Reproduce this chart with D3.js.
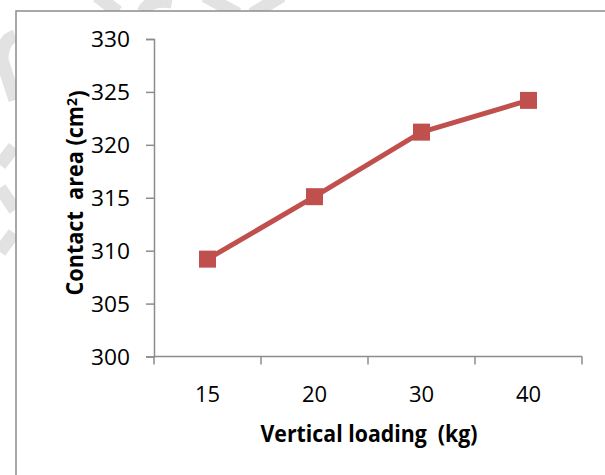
<!DOCTYPE html>
<html>
<head>
<meta charset="utf-8">
<script src="https://cdn.jsdelivr.net/npm/d3@7"></script>
<style>
  body { margin: 0; background: #fff; }
  text { font-family: "Open Sans", sans-serif; fill: #000; }
</style>
</head>
<body>
<svg id="chart" width="605" height="475"></svg>
<script>
// chart values
var categories = ['15', '20', '30', '40'];
var contact_area = [309.2, 315.1, 321.2, 324.2];
var y_ticks = [300, 305, 310, 315, 320, 325, 330];
var x_title = 'Vertical loading  (kg)';
var y_title = 'Contact  area (cm';

var svg = d3.select('#chart');
var red = '#C0504D';
var axis_grey = '#8c8c8c';

// faint watermark pieces in the margins
var marks = [
  'M15,36 Q2,40 2,60 L15,100',
  'M14,147 L0,165',
  'M0,188 L15,210',
  'M14,233 L0,252',
  'M97,-4 L118,12',
  'M143,12 Q150,-2 172,2',
  'M205,-4 L238,14',
  'M282,-4 L252,14'
];
svg.selectAll('.wm')
  .data(marks)
  .enter()
  .append('path')
  .attr('class', 'wm')
  .attr('d', function(d){ return d; })
  .style('fill', 'none')
  .style('stroke', '#e2e2e2')
  .style('stroke-width', 13);

// chart box
svg.append('rect')
  .attr('x', 16)
  .attr('y', 11)
  .attr('width', 640)
  .attr('height', 520)
  .style('fill', '#fff')
  .style('stroke', axis_grey)
  .style('stroke-width', 1.5);

var x_scale = d3.scaleBand()
  .domain(categories)
  .range([154, 582])
  .padding(0);

var y_scale = d3.scaleLinear()
  .domain([300, 330])
  .range([356.5, 39]);

// y axis
var y_axis = svg.append('g')
  .attr('transform', 'translate(154,0)')
  .call(d3.axisLeft(y_scale).tickValues(y_ticks).tickSize(8).tickPadding(16));

y_axis.select('.domain').style('stroke', axis_grey).style('stroke-width', 1.5);
y_axis.selectAll('.tick line').style('stroke', axis_grey).style('stroke-width', 1.5);
y_axis.selectAll('.tick text')
  .style('font-family', '"Open Sans", sans-serif')
  .style('font-size', '22px')
  .attr('textLength', 39)
  .attr('lengthAdjust', 'spacingAndGlyphs')
  .attr('dy', '0.36em');

// x axis, ticks sit on the band edges
var x_axis = svg.append('g')
  .attr('transform', 'translate(0,356.5)');

x_axis.append('path')
  .attr('d', 'M' + x_scale.range()[0] + ',0 H' + x_scale.range()[1])
  .style('stroke', axis_grey)
  .style('stroke-width', 1.5);

var edges = categories.map(function(d){ return x_scale(d); }).concat([x_scale.range()[1]]);
x_axis.selectAll('.xtick')
  .data(edges)
  .enter()
  .append('line')
  .attr('class', 'xtick')
  .attr('x1', function(d){ return d; })
  .attr('x2', function(d){ return d; })
  .attr('y1', 0)
  .attr('y2', 8)
  .style('stroke', axis_grey)
  .style('stroke-width', 1.5);

x_axis.selectAll('.xlabel')
  .data(categories)
  .enter()
  .append('text')
  .attr('class', 'xlabel')
  .attr('x', function(d){ return x_scale(d) + x_scale.bandwidth() / 2; })
  .attr('y', 38)
  .attr('dy', '0.36em')
  .attr('text-anchor', 'middle')
  .style('font-size', '22px')
  .text(function(d){ return d; });

// axis titles
svg.append('text')
  .attr('x', 369)
  .attr('y', 442)
  .attr('text-anchor', 'middle')
  .attr('textLength', 217)
  .attr('lengthAdjust', 'spacingAndGlyphs')
  .style('white-space', 'pre')
  .style('font-size', '23px')
  .style('font-weight', 'bold')
  .text(x_title);

var yt = svg.append('text')
  .attr('transform', 'translate(83,193) rotate(-90)')
  .attr('text-anchor', 'middle')
  .attr('textLength', 205)
  .attr('lengthAdjust', 'spacingAndGlyphs')
  .style('white-space', 'pre')
  .style('font-size', '23px')
  .style('font-weight', 'bold');
yt.append('tspan').text(y_title);
yt.append('tspan').attr('dy', '-0.4em').style('font-size', '15px').text('2');
yt.append('tspan').attr('dy', '0.4em').text(')');

// line and square markers
var pts = categories.map(function(c, i){ return { cat: c, value: contact_area[i] }; });

var line = d3.line()
  .x(function(d){ return x_scale(d.cat) + x_scale.bandwidth() / 2; })
  .y(function(d){ return y_scale(d.value); });

svg.append('path')
  .datum(pts)
  .attr('d', line)
  .style('fill', 'none')
  .style('stroke', red)
  .style('stroke-width', 5)
  .style('stroke-linejoin', 'round');

var msize = 17;
svg.selectAll('.marker')
  .data(pts)
  .enter()
  .append('rect')
  .attr('class', 'marker')
  .attr('x', function(d){ return x_scale(d.cat) + x_scale.bandwidth() / 2 - msize / 2; })
  .attr('y', function(d){ return y_scale(d.value) - msize / 2; })
  .attr('width', msize)
  .attr('height', msize)
  .style('fill', red);
</script>
</body>
</html>
